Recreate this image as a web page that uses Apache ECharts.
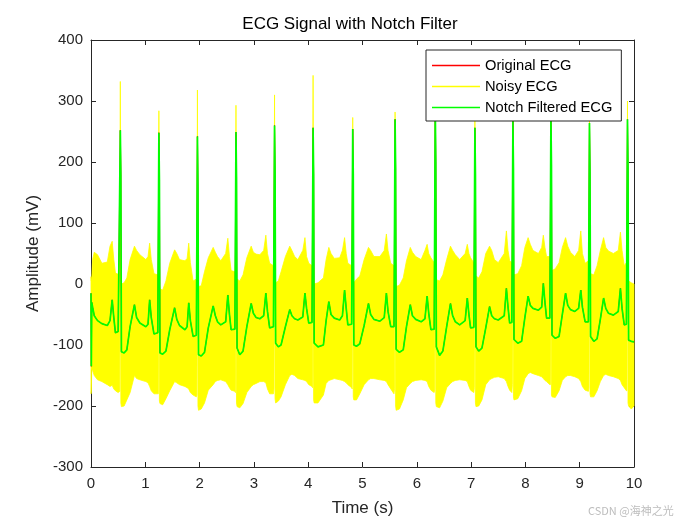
<!DOCTYPE html>
<html>
<head>
<meta charset="utf-8">
<script src="https://cdn.jsdelivr.net/npm/echarts/dist/echarts.min.js"></script>
<style>
html,body{margin:0;padding:0;background:#fff;}
#chart{width:700px;height:525px;}
</style>
</head>
<body>
<div id="chart"></div>
<script>
// ---- time base (s) shared by all traces ----
const timeS = [
  0, 0.006, 0.014, 0.03, 0.06, 0.12, 0.2, 0.3, 0.35, 0.39, 0.42, 0.45, 0.5,
  0.53, 0.54, 0.55, 0.56, 0.61, 0.66, 0.72, 0.80, 0.84, 0.90, 1.01, 1.05, 1.08, 1.11, 1.16, 1.23,
  1.24, 1.25, 1.26, 1.27, 1.32, 1.38, 1.45, 1.54, 1.58, 1.63, 1.73, 1.77, 1.80, 1.83, 1.88, 1.94,
  1.95, 1.96, 1.97, 1.98, 2.03, 2.09, 2.16, 2.25, 2.29, 2.33, 2.39, 2.48, 2.52, 2.55, 2.58, 2.65,
  2.66, 2.67, 2.68, 2.69, 2.74, 2.80, 2.87, 2.95, 2.99, 3.04, 3.11, 3.18, 3.22, 3.25, 3.29, 3.36,
  3.37, 3.38, 3.39, 3.40, 3.45, 3.50, 3.58, 3.66, 3.70, 3.75, 3.81, 3.90, 3.94, 3.97, 4.01, 4.07,
  4.08, 4.09, 4.10, 4.11, 4.18, 4.28, 4.33, 4.38, 4.42, 4.48, 4.58, 4.63, 4.67, 4.70, 4.73, 4.80,
  4.81, 4.82, 4.83, 4.84, 4.89, 4.95, 5.03, 5.11, 5.15, 5.21, 5.32, 5.40, 5.44, 5.47, 5.52, 5.58,
  5.59, 5.60, 5.61, 5.62, 5.68, 5.75, 5.81, 5.88, 5.92, 5.98, 6.08, 6.15, 6.19, 6.22, 6.26, 6.32,
  6.33, 6.34, 6.35, 6.36, 6.42, 6.48, 6.55, 6.62, 6.66, 6.71, 6.79, 6.89, 6.93, 6.96, 6.99, 7.05,
  7.06, 7.07, 7.08, 7.09, 7.14, 7.20, 7.27, 7.34, 7.38, 7.43, 7.50, 7.61, 7.65, 7.68, 7.71, 7.75,
  7.76, 7.77, 7.78, 7.79, 7.86, 7.93, 7.99, 8.05, 8.09, 8.14, 8.24, 8.30, 8.33, 8.36, 8.39, 8.45,
  8.46, 8.47, 8.48, 8.49, 8.55, 8.62, 8.68, 8.74, 8.78, 8.83, 8.91, 8.98, 9.02, 9.05, 9.10, 9.16,
  9.17, 9.18, 9.19, 9.20, 9.26, 9.32, 9.38, 9.44, 9.48, 9.53, 9.62, 9.71, 9.75, 9.78, 9.82, 9.86,
  9.87, 9.88, 9.89, 9.90, 9.95, 10.0
];

// ---- Notch filtered ECG (mV) ----
const filteredECG = [
  -15, -135, -30, -38, -52, -60, -65, -68, -60, -26, -55, -80, -78,
  -76, 252, 180, -111, -113, -108, -70, -34, -55, -64, -70, -66, -26, -55, -82, -80,
  -82, 248, 170, -113, -115, -110, -75, -39, -58, -68, -75, -70, -31, -60, -86, -84,
  -84, 242, 160, -116, -118, -112, -72, -36, -52, -62, -67, -62, -18, -50, -75, -74,
  -74, 249, 175, -105, -116, -110, -70, -32, -48, -55, -57, -52, -15, -45, -72, -70,
  -68, 260, 185, -97, -103, -100, -70, -42, -52, -57, -59, -54, -15, -40, -64, -63,
  -64, 256, 180, -97, -103, -100, -60, -29, -50, -56, -59, -52, -10, -40, -67, -66,
  -68, 254, 180, -100, -102, -98, -68, -32, -50, -58, -61, -55, -15, -45, -70, -70,
  -72, 270, 190, -107, -112, -108, -70, -34, -52, -58, -62, -57, -20, -48, -75, -74,
  -74, 290, 200, -103, -117, -110, -70, -32, -52, -62, -67, -60, -23, -50, -72, -71,
  -70, 256, 180, -103, -110, -105, -72, -37, -52, -57, -59, -52, -7, -38, -64, -63,
  -63, 267, 190, -91, -97, -94, -55, -20, -35, -40, -43, -38, 1, -30, -56, -56,
  -58, 275, 195, -84, -89, -86, -50, -15, -35, -42, -45, -40, -10, -38, -62, -62,
  -63, 264, 185, -86, -94, -90, -58, -23, -40, -48, -51, -45, -7, -40, -67, -66,
  -66, 270, 190, -92, -94, -95
];

// ---- Original ECG (mV): hidden under the other traces, same course as filtered ----
const originalECG = [
  -15, -135, -30, -38, -52, -60, -65, -68, -60, -26, -55, -80, -78,
  -76, 252, 180, -111, -113, -108, -70, -34, -55, -64, -70, -66, -26, -55, -82, -80,
  -82, 248, 170, -113, -115, -110, -75, -39, -58, -68, -75, -70, -31, -60, -86, -84,
  -84, 242, 160, -116, -118, -112, -72, -36, -52, -62, -67, -62, -18, -50, -75, -74,
  -74, 249, 175, -105, -116, -110, -70, -32, -48, -55, -57, -52, -15, -45, -72, -70,
  -68, 260, 185, -97, -103, -100, -70, -42, -52, -57, -59, -54, -15, -40, -64, -63,
  -64, 256, 180, -97, -103, -100, -60, -29, -50, -56, -59, -52, -10, -40, -67, -66,
  -68, 254, 180, -100, -102, -98, -68, -32, -50, -58, -61, -55, -15, -45, -70, -70,
  -72, 270, 190, -107, -112, -108, -70, -34, -52, -58, -62, -57, -20, -48, -75, -74,
  -74, 290, 200, -103, -117, -110, -70, -32, -52, -62, -67, -60, -23, -50, -72, -71,
  -70, 256, 180, -103, -110, -105, -72, -37, -52, -57, -59, -52, -7, -38, -64, -63,
  -63, 267, 190, -91, -97, -94, -55, -20, -35, -40, -43, -38, 1, -30, -56, -56,
  -58, 275, 195, -84, -89, -86, -50, -15, -35, -42, -45, -40, -10, -38, -62, -62,
  -63, 264, 185, -86, -94, -90, -58, -23, -40, -48, -51, -45, -7, -40, -67, -66,
  -66, 270, 190, -92, -94, -95
];

// ---- Noisy ECG: upper and lower envelope of the dense 50 Hz band (mV) ----
const noisyUpper = [
  12, 5, 10, 40, 52, 48, 34, 36, 62, 70, 40, 18, 16,
  15, 332, 2, 0, 2, 10, 40, 62, 55, 48, 40, 45, 67, 40, 17, 15,
  12, 284, 0, -8, -10, 5, 34, 56, 50, 40, 38, 42, 67, 35, 5, 8,
  8, 318, -2, -4, -3, 20, 43, 60, 52, 45, 38, 50, 75, 45, 22, 20,
  20, 293, 7, 8, 5, 15, 43, 62, 52, 49, 48, 55, 80, 50, 34, 30,
  25, 310, 5, 2, 5, 20, 45, 62, 55, 45, 40, 55, 76, 45, 34, 30,
  30, 342, 2, 0, 2, 10, 40, 60, 50, 42, 43, 55, 76, 50, 34, 30,
  28, 273, 5, 2, 8, 13, 40, 60, 55, 45, 45, 55, 82, 55, 34, 30,
  25, 282, 0, -4, -2, 10, 38, 60, 52, 45, 40, 55, 65, 50, 43, 35,
  30, 320, 5, 7, 5, 15, 40, 62, 55, 48, 40, 50, 65, 50, 43, 35,
  30, 280, 10, 13, 10, 20, 50, 62, 55, 40, 35, 50, 87, 55, 38, 35,
  35, 300, 15, 15, 17, 30, 60, 76, 65, 55, 50, 60, 80, 60, 45, 45,
  40, 300, 20, 22, 25, 35, 60, 76, 62, 52, 45, 55, 87, 50, 34, 38,
  35, 290, 15, 17, 15, 30, 55, 76, 60, 54, 50, 55, 85, 55, 30, 35,
  35, 300, 10, 5, 2, 0
];
const noisyLower = [
  -180, -175, -140, -142, -150, -157, -160, -165, -168, -166, -172, -175, -178,
  -176, 120, -195, -201, -200, -190, -178, -150, -155, -157, -160, -162, -168, -175, -180, -180,
  -180, 110, -192, -196, -198, -188, -175, -160, -162, -165, -168, -170, -172, -178, -182, -185,
  -182, 100, -200, -207, -205, -195, -174, -165, -160, -158, -157, -160, -165, -170, -174, -176,
  -178, 110, -195, -201, -203, -196, -178, -168, -165, -163, -160, -160, -162, -172, -180, -180,
  -172, 120, -188, -195, -192, -185, -165, -150, -148, -150, -155, -157, -158, -160, -165, -168,
  -170, 120, -190, -195, -195, -182, -163, -158, -157, -155, -157, -158, -160, -162, -165, -170,
  -172, 120, -185, -190, -190, -180, -165, -157, -155, -155, -157, -158, -160, -165, -172, -180,
  -172, 130, -200, -207, -205, -190, -170, -163, -160, -158, -157, -158, -160, -168, -174, -178,
  -172, 130, -195, -201, -203, -192, -170, -163, -160, -158, -157, -158, -160, -168, -174, -178,
  -170, 120, -195, -201, -200, -190, -165, -157, -155, -153, -152, -155, -160, -168, -174, -178,
  -165, 130, -185, -190, -188, -175, -155, -147, -145, -147, -150, -152, -155, -158, -160, -165,
  -165, 140, -182, -185, -186, -175, -158, -152, -150, -150, -152, -155, -160, -168, -174, -176,
  -170, 130, -180, -185, -185, -175, -160, -150, -148, -150, -152, -155, -158, -165, -170, -175,
  -175, 130, -195, -200, -205, -200
];

const seriesNames = ['Original ECG', 'Noisy ECG', 'Notch Filtered ECG'];
const xTickValues = [0, 1, 2, 3, 4, 5, 6, 7, 8, 9, 10];
const yTickValues = [-300, -200, -100, 0, 100, 200, 300, 400];

const FONT = '"Liberation Sans", Arial, Helvetica, sans-serif';
const AXC = '#262626';

const chart = echarts.init(document.getElementById('chart'), null, {renderer: 'canvas'});

const pair = (vals) => timeS.map((t, i) => [t, vals[i]]);
const bandData = timeS.map((t, i) => [t, noisyUpper[i], noisyLower[i]]);

// Noisy band: one polygon through the envelope points, placed with the axis scales
function renderBand(params, api) {
  if (params.dataIndex !== 0) return null;
  const pts = [];
  for (let i = 0; i < bandData.length; i++) pts.push(api.coord([bandData[i][0], bandData[i][1]]));
  for (let i = bandData.length - 1; i >= 0; i--) pts.push(api.coord([bandData[i][0], bandData[i][2]]));
  return {
    type: 'polygon',
    shape: {points: pts},
    style: {fill: '#ffff00', stroke: '#ffff00', lineWidth: 0.8}
  };
}

const axisCommon = {
  type: 'value',
  axisLine: {show: true, onZero: false, lineStyle: {color: AXC, width: 1}},
  axisTick: {show: true, inside: true, length: 5, lineStyle: {color: AXC, width: 1}},
  splitLine: {show: false}
};

chart.setOption({
  animation: false,
  backgroundColor: '#ffffff',
  title: {
    text: 'ECG Signal with Notch Filter',
    left: 'center',
    top: 11,
    textStyle: {fontFamily: FONT, fontSize: 17, fontWeight: 'normal', color: '#000'}
  },
  legend: {
    data: seriesNames,
    orient: 'vertical',
    left: 426,
    top: 50,
    z: 10,
    icon: 'rect',
    itemWidth: 48,
    itemHeight: 1.5,
    itemGap: 6,
    padding: [8, 9, 6, 6],
    borderColor: AXC,
    borderWidth: 1,
    borderRadius: 0,
    backgroundColor: '#ffffff',
    selectedMode: false,
    textStyle: {fontFamily: FONT, fontSize: 14.7, color: '#000', lineHeight: 14}
  },
  grid: {left: 91, top: 40, width: 543, height: 427, containLabel: false},
  xAxis: [
    Object.assign({}, axisCommon, {
      min: xTickValues[0], max: xTickValues[xTickValues.length - 1], interval: 1,
      position: 'bottom',
      axisLabel: {show: true, margin: 9, fontFamily: FONT, fontSize: 15, color: AXC},
      name: 'Time (s)', nameLocation: 'middle', nameGap: 33,
      nameTextStyle: {fontFamily: FONT, fontSize: 17, color: AXC}
    }),
    Object.assign({}, axisCommon, {
      min: xTickValues[0], max: xTickValues[xTickValues.length - 1], interval: 1,
      position: 'top', axisLabel: {show: false}
    })
  ],
  yAxis: [
    Object.assign({}, axisCommon, {
      min: yTickValues[0], max: yTickValues[yTickValues.length - 1], interval: 100,
      position: 'left',
      axisLabel: {show: true, margin: 8, fontFamily: FONT, fontSize: 15, color: AXC},
      name: 'Amplitude (mV)', nameLocation: 'middle', nameGap: 45,
      nameTextStyle: {fontFamily: FONT, fontSize: 17, color: AXC}
    }),
    Object.assign({}, axisCommon, {
      min: yTickValues[0], max: yTickValues[yTickValues.length - 1], interval: 100,
      position: 'right', axisLabel: {show: false}
    })
  ],
  series: [
    {
      name: 'Original ECG', type: 'line', data: pair(originalECG),
      xAxisIndex: 0, yAxisIndex: 0,
      showSymbol: false, symbol: 'none',
      itemStyle: {color: '#ff0000'},
      lineStyle: {color: '#ff0000', width: 1}
    },
    {
      name: 'Noisy ECG', type: 'custom', data: bandData,
      xAxisIndex: 0, yAxisIndex: 0,
      encode: {x: 0, y: [1, 2]},
      renderItem: renderBand,
      itemStyle: {color: '#ffff00'},
      silent: true
    },
    {
      name: 'Notch Filtered ECG', type: 'line', data: pair(filteredECG),
      xAxisIndex: 0, yAxisIndex: 0,
      showSymbol: false, symbol: 'none',
      itemStyle: {color: '#00ff00'},
      lineStyle: {color: '#00ff00', width: 1.7}
    }
  ],
  graphic: [{
    type: 'text', left: 588, top: 505, silent: true,
    style: {text: 'CSDN @海神之光', font: '11px "Noto Sans CJK SC", sans-serif', fill: '#bdbdbd'}
  }]
});
</script>
</body>
</html>
